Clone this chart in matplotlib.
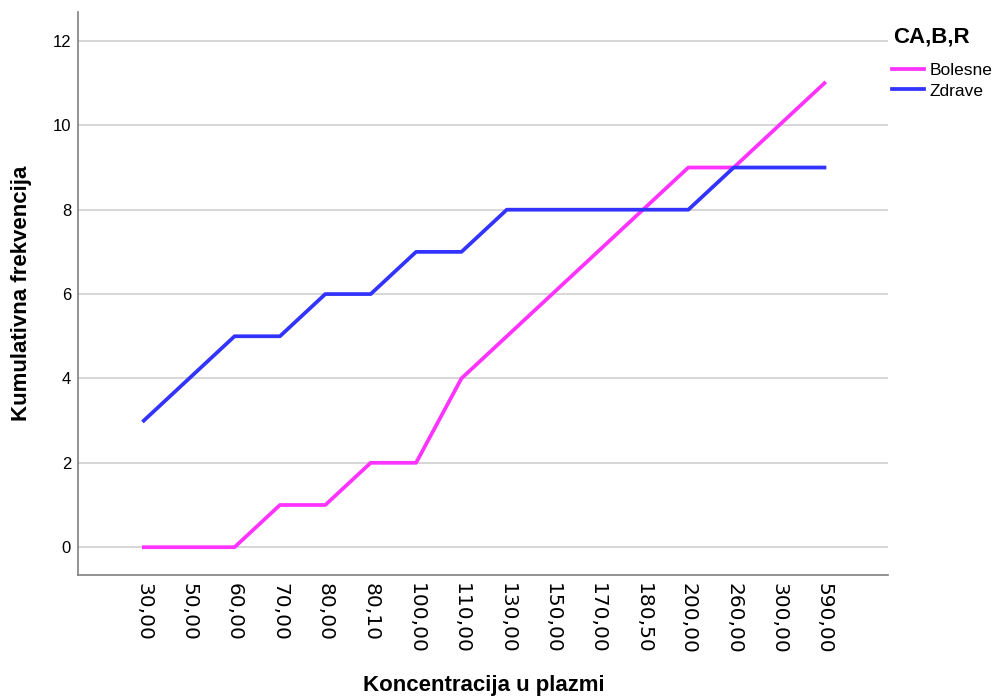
import matplotlib
matplotlib.use('Agg')
import matplotlib.pyplot as plt

plt.rcParams['font.family'] = ['Liberation Sans', 'DejaVu Sans']

categories = ['30,00', '50,00', '60,00', '70,00', '80,00', '80,10', '100,00', '110,00',
              '130,00', '150,00', '170,00', '180,50', '200,00', '260,00', '300,00', '590,00']
bolesne = [0, 0, 0, 1, 1, 2, 2, 4, 5, 6, 7, 8, 9, 9, 10, 11]
zdrave = [3, 4, 5, 5, 6, 6, 7, 7, 8, 8, 8, 8, 8, 9, 9, 9]
yticks = [0, 2, 4, 6, 8, 10, 12]

fig = plt.figure(figsize=(10, 6.97), dpi=100)
ax = fig.add_axes([0.078, 0.175, 0.81, 0.808])

x = list(range(len(categories)))
ax.plot(x, bolesne, color='#ff33ff', lw=2.7, label='Bolesne')
ax.plot(x, zdrave, color='#3333ff', lw=2.7, label='Zdrave')

ax.set_xlim(-1.45, 16.4)
ax.set_ylim(-0.66, 12.69)
ax.set_xticks(x)
ax.set_xticklabels(categories, rotation=270, fontsize=14.5, family='DejaVu Sans')
ax.set_yticks(yticks)
ax.set_yticklabels([str(v) for v in yticks], fontsize=12)
ax.tick_params(length=0)
ax.tick_params(axis='y', pad=5)
ax.tick_params(axis='x', pad=6)
ax.yaxis.grid(True, color='#d0d0d0', lw=1.2)
ax.set_axisbelow(True)
for side in ['top', 'right']:
    ax.spines[side].set_visible(False)
for side in ['left', 'bottom']:
    ax.spines[side].set_color('#808080')
    ax.spines[side].set_linewidth(1.2)

fig.text(0.484, 1 - 685 / 697, 'Koncentracija u plazmi', fontsize=16, fontweight='bold',
         ha='center', va='center')
fig.text(0.022, 1 - 293 / 697, 'Kumulativna frekvencija', fontsize=16, fontweight='bold',
         ha='center', va='center', rotation=90)

# legend outside, SPSS style
fig.text(0.893, 1 - 37 / 697, 'CA,B,R', fontsize=16, fontweight='bold', ha='left', va='center')
leg = fig.legend(loc='upper left', bbox_to_anchor=(0.892, 1 - 63 / 697), frameon=False,
                 fontsize=12.5, handlelength=1.85, handletextpad=0.3,
                 labelspacing=0.3, borderaxespad=0, borderpad=0)

fig.savefig('out.png', dpi=100)
